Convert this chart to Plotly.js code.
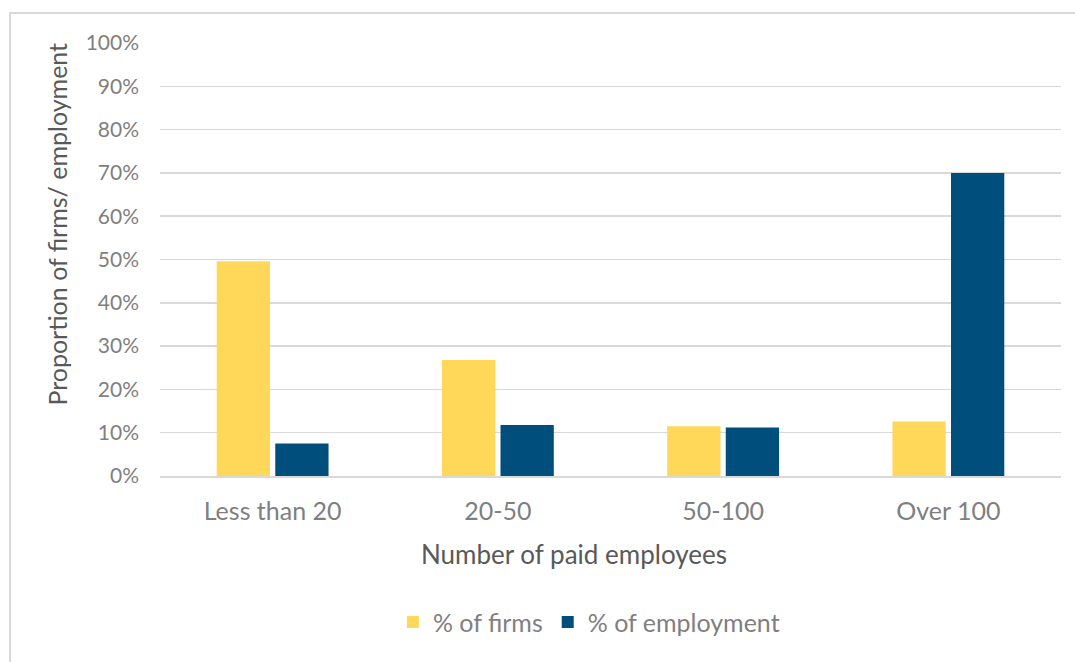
<!DOCTYPE html>
<html>
<head>
<meta charset="utf-8">
<script src="https://cdn.plot.ly/plotly-3.0.1.min.js"></script>
<style>
  html, body { margin:0; padding:0; background:#fff; }
  #frame { position:absolute; left:9px; top:12px; width:1080px; height:660px; border-left:2px solid #d9d9d9; border-top:2px solid #d9d9d9; }
  #chart { position:absolute; left:0; top:0; width:1075px; height:662px; }
</style>
</head>
<body>
<div id="frame"></div>
<div id="chart"></div>
<script>
const categories = ["Less than 20", "20-50", "50-100", "Over 100"];
const firms = [0.496, 0.268, 0.115, 0.126];
const employment = [0.075, 0.118, 0.112, 0.700];
const seriesNames = ["% of firms", "% of employment"];
const yTickVals = [0, 0.1, 0.2, 0.3, 0.4, 0.5, 0.6, 0.7, 0.8, 0.9, 1.0];
const yTickText = ["0%", "10%", "20%", "30%", "40%", "50%", "60%", "70%", "80%", "90%", "100%"];
const xTitle = "Number of paid employees";
const yTitle = "Proportion of firms/ employment";

const font = "Lato, 'Open Sans', sans-serif";
const data = [
  { type: "bar", x: categories, y: firms, name: seriesNames[0], marker: { color: "#FFD85A" }, hoverinfo: "none" },
  { type: "bar", x: categories, y: employment, name: seriesNames[1], marker: { color: "#004E7C" }, hoverinfo: "none" }
];
const layout = {
  width: 1075, height: 662,
  paper_bgcolor: "rgba(0,0,0,0)", plot_bgcolor: "rgba(0,0,0,0)",
  margin: { l: 160, r: 14, t: 42.5, b: 185.5 },
  barmode: "group", bargap: 0.48, bargroupgap: 0.09,
  font: { family: font, color: "#7f7f7f" },
  showlegend: true,
  legend: { orientation: "h", x: 0.476, xanchor: "center", y: -0.338, yanchor: "middle",
            font: { size: 25, color: "#7f7f7f", family: font }, traceorder: "normal",
            itemwidth: 30, tracegroupgap: 0 },
  xaxis: {
    type: "category", showgrid: false, showline: true, linecolor: "#d9d9d9", linewidth: 2,
    tickfont: { size: 25, color: "#7f7f7f", family: font }, ticks: "", ticklabelstandoff: 12
  },
  yaxis: {
    range: [0, 1.0], tickvals: yTickVals, ticktext: yTickText,
    showgrid: true, gridcolor: "#d9d9d9", gridwidth: 1.5, zeroline: false, showline: false,
    tickfont: { size: 21, color: "#7f7f7f", family: font }, ticks: "", ticklabelstandoff: 20
  },
  annotations: [
    { text: xTitle, xref: "paper", yref: "paper", x: 0.460, y: -0.181, xanchor: "center", yanchor: "middle",
      showarrow: false, font: { size: 26, color: "#595959", family: font } },
    { text: yTitle, xref: "paper", yref: "paper", x: -0.1143, y: 0.5806, xanchor: "center", yanchor: "middle",
      textangle: -90, showarrow: false, font: { size: 25, color: "#595959", family: font } }
  ]
};
Plotly.newPlot("chart", data, layout, { displayModeBar: false, staticPlot: true });
</script>
</body>
</html>
